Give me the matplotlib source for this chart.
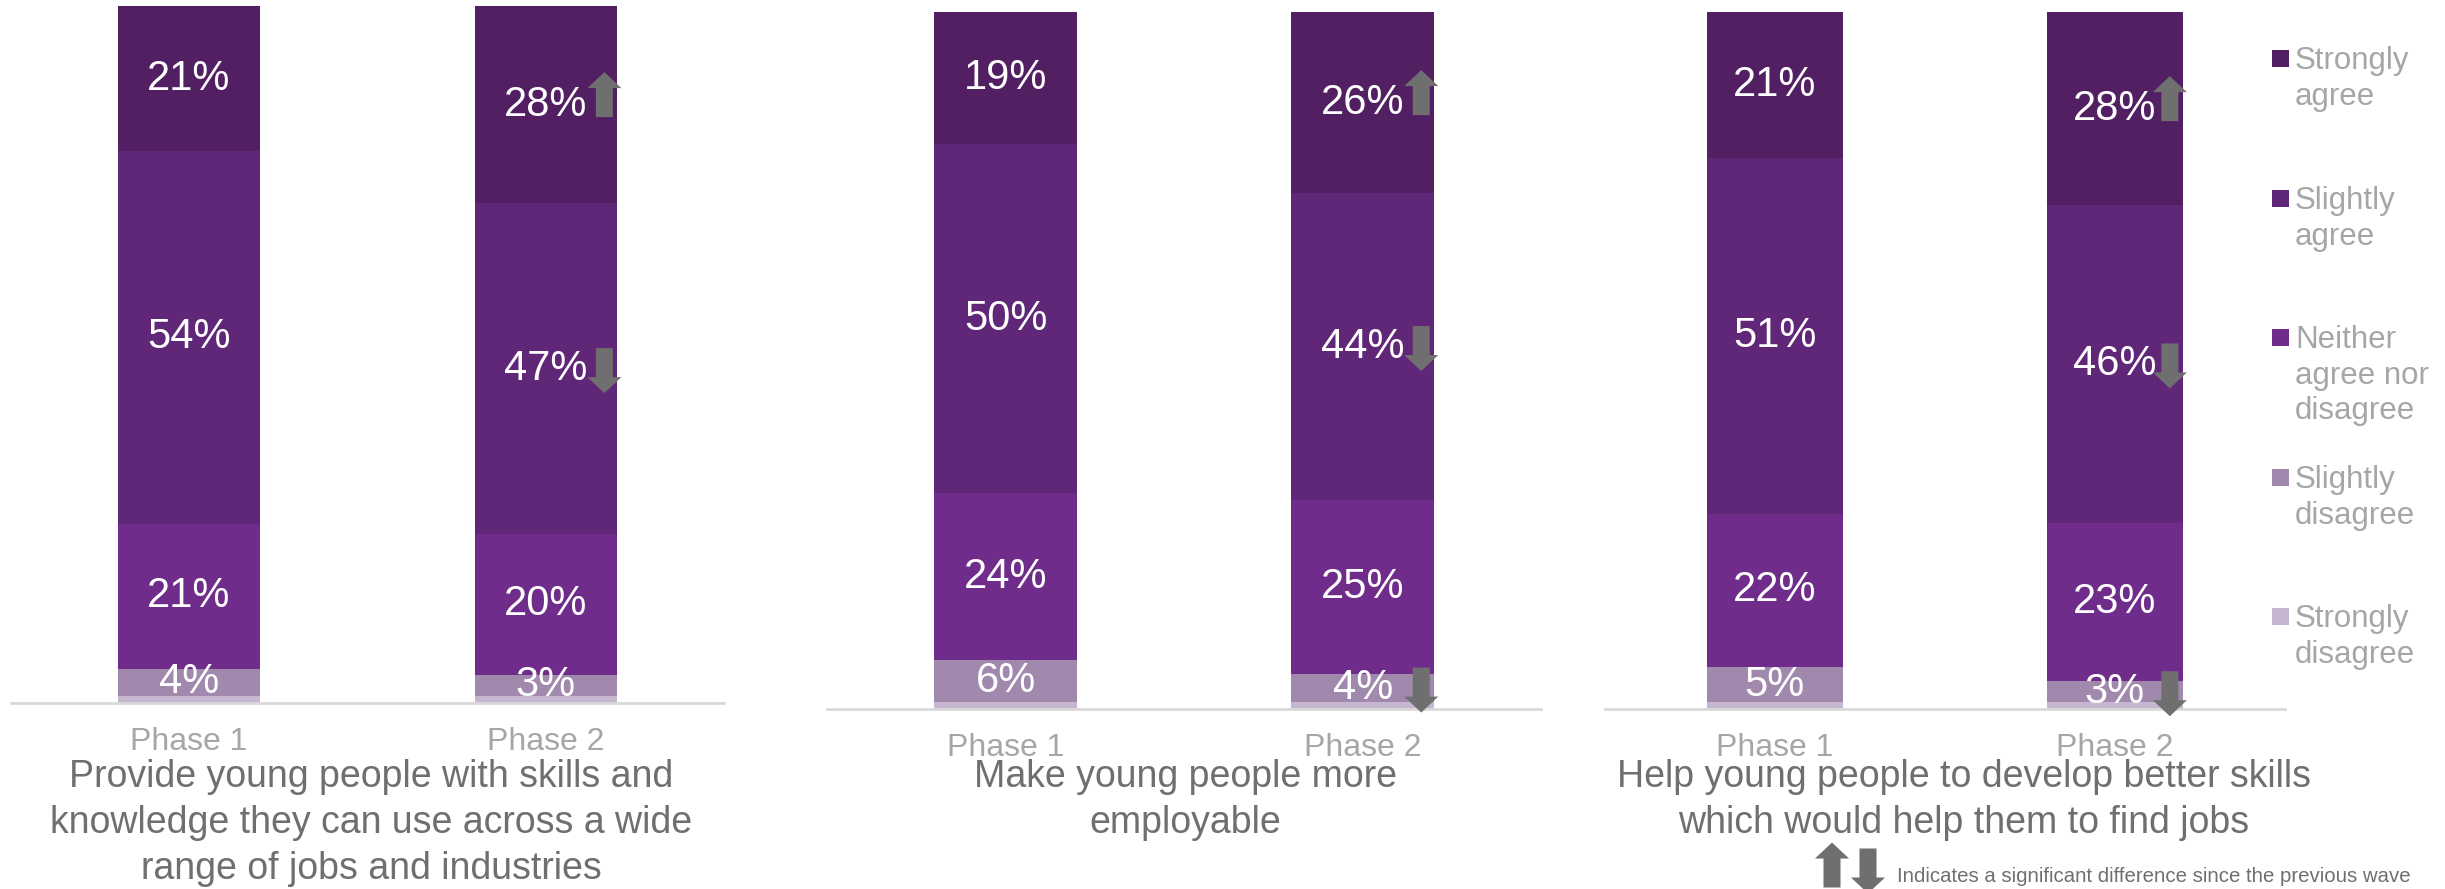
# Three 100% stacked bar panels: Phase 1 vs Phase 2 agreement

import matplotlib.pyplot as plt
from matplotlib.patches import Polygon
from matplotlib.transforms import ScaledTranslation

plt.rcParams['font.family'] = ['Liberation Sans', 'DejaVu Sans']

phases = ["Phase 1", "Phase 2"]
categories = ["Strongly agree", "Slightly agree", "Neither agree nor disagree",
              "Slightly disagree", "Strongly disagree"]
legend_labels = ["Strongly\nagree", "Slightly\nagree", "Neither\nagree nor\ndisagree",
                 "Slightly\ndisagree", "Strongly\ndisagree"]
colors = ["#521F62", "#602678", "#6F2C8A", "#A189AD", "#C6B6D0"]

titles = ["Provide young people with skills and\nknowledge they can use across a wide\nrange of jobs and industries",
          "Make young people more\nemployable",
          "Help young people to develop better skills\nwhich would help them to find jobs"]

# % per category (same order as categories), phase 1 / phase 2
skills_p1 = [21, 54, 21, 4, 1]
skills_p2 = [28, 47, 20, 3, 1]
employ_p1 = [19, 50, 24, 6, 1]
employ_p2 = [26, 44, 25, 4, 1]
jobs_p1 = [21, 51, 22, 5, 1]
jobs_p2 = [28, 46, 23, 3, 1]

# significant change in phase 2 (category index -> direction)
skills_sig = {0: "up", 1: "down"}
employ_sig = {0: "up", 1: "down", 3: "down"}
jobs_sig = {0: "up", 1: "down", 3: "down"}

panels = [(skills_p1, skills_p2, skills_sig),
          (employ_p1, employ_p2, employ_sig),
          (jobs_p1, jobs_p2, jobs_sig)]

ARROW_GREY = "#6F6F6F"
DPI = 100


def arrow_verts(direction, H=45, hh=16, hw=17, sw=8.5):
    """矢印の頂点 (pixel単位, 中心基準) -> inch"""
    pts = [(0, H / 2), (hw, H / 2 - hh), (sw, H / 2 - hh), (sw, -H / 2),
           (-sw, -H / 2), (-sw, H / 2 - hh), (-hw, H / 2 - hh)]
    if direction == "down":
        pts = [(x, -y) for x, y in pts]
    return [(x / DPI, y / DPI) for x, y in pts]


def draw_arrow(fig, base, x, y, direction, ax=None, dx_px=0, dy_px=0):
    trans = fig.dpi_scale_trans + ScaledTranslation(x, y, base) + \
        ScaledTranslation(dx_px / DPI, dy_px / DPI, fig.dpi_scale_trans)
    p = Polygon(arrow_verts(direction), closed=True, facecolor=ARROW_GREY,
                edgecolor="none", transform=trans, clip_on=False, zorder=5)
    if ax is not None:
        ax.add_patch(p)
    else:
        fig.patches.append(p)


fig = plt.figure(figsize=(24.45, 8.89), dpi=DPI)

# axes positions (left, bottom, width, height) in figure fraction
axes_pos = [[0.0043, 0.2092, 0.2920, 0.7840],
            [0.3384, 0.2025, 0.2920, 0.7840],
            [0.6564, 0.2025, 0.2781, 0.7840]]
title_x = [0.1517, 0.4847, 0.8033]

width = 0.4
for i, (p1, p2, sig) in enumerate(panels):
    ax = fig.add_axes(axes_pos[i])
    for j, vals in enumerate([p1, p2]):
        total = sum(vals)
        bottom = 0
        # bottom of the stack = Strongly disagree
        for k in reversed(range(len(categories))):
            h = vals[k] / total * 100
            ax.bar(j, h, width=width, bottom=bottom, color=colors[k], linewidth=0)
            if k < 4:
                yc = bottom + h / 2
                ax.text(j, yc, f"{vals[k]}%", ha="center", va="center",
                        color="white", fontsize=30)
                if j == 1 and k in sig:
                    d = sig[k]
                    draw_arrow(fig, ax.transData, j + width / 2, yc, d, ax=ax,
                               dx_px=-13, dy_px=10 if d == "up" else -2)
            bottom += h

    ax.set_xlim(-0.5, 1.5)
    ax.set_ylim(0, 100)
    ax.set_xticks([0, 1])
    ax.set_xticklabels(phases, fontsize=23, color="#A6A6A6")
    ax.tick_params(axis="x", length=0, pad=17)
    ax.set_yticks([])
    for s in ["top", "right", "left"]:
        ax.spines[s].set_visible(False)
    ax.spines["bottom"].set_color("#D9D9D9")
    ax.spines["bottom"].set_linewidth(2)

    fig.text(title_x[i], 0.146, titles[i], ha="center", va="top",
             fontsize=27, color="#6F6F6F", linespacing=1.36)

# legend
leg_y = [58, 198, 337, 477, 616]  # pixel rows from the top
for k, lab in enumerate(legend_labels):
    yf = 1 - leg_y[k] / 889
    fig.patches.append(plt.Rectangle((2272 / 2445, yf - 8.5 / 889), 17 / 2445, 17 / 889,
                                     transform=fig.transFigure, facecolor=colors[k],
                                     edgecolor="none"))
    fig.text(2295 / 2445, yf + 12 / 889, lab, ha="left", va="top", fontsize=22.5,
             color="#A6A6A6", linespacing=1.25)

# footnote
draw_arrow(fig, fig.transFigure, 1832 / 2445, 1 - 865 / 889, "up")
draw_arrow(fig, fig.transFigure, 1868 / 2445, 1 - 871 / 889, "down")
fig.text(1897 / 2445, 1 - 876 / 889, "Indicates a significant difference since the previous wave",
         ha="left", va="center", fontsize=14.7, color="#6F6F6F")

plt.savefig("out.png", dpi=DPI)
plt.close()
